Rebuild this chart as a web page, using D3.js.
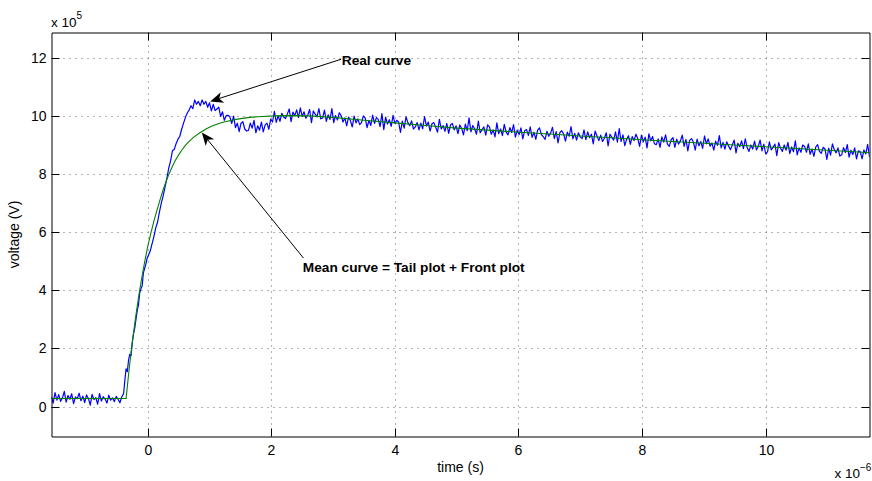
<!DOCTYPE html>
<html><head><meta charset="utf-8">
<script src="https://cdn.jsdelivr.net/npm/d3@7"></script>
<style>
body{margin:0;background:#fff;}
text{font-family:"Liberation Sans",Arial,Helvetica,sans-serif;fill:#000;}
</style></head><body><svg id="c" width="872" height="481"></svg>
<script>
// ---------- data (time in µs, voltage in 1e5 V) ----------
const xTicks = [0, 2, 4, 6, 8, 10];
const yTicks = [0, 2, 4, 6, 8, 10, 12];
const xDomain = [-1.557, 11.68];
const yDomain = [-1.03, 12.87];

// blue "real curve" before the rise, evenly sampled from -1.56 to -0.42
const bluePreRange = [-1.56, -0.42];
const bluePre = [0.35,0.12,0.48,0.22,0.41,0.18,0.30,0.52,0.15,0.38,
  0.25,0.44,0.10,0.33,0.27,0.46,0.20,0.36,0.14,0.40,
  0.28,0.05,0.42,0.24,0.31,0.08,0.45,0.19,0.34,0.26,
  0.12,0.39,0.22,0.30,0.17,0.35,0.25,0.13,0.33];

// blue rise
const blueRiseT = [-0.39,-0.37,-0.35,-0.33,-0.31,-0.29,-0.27,-0.25,-0.23,-0.21,-0.19,-0.17,-0.15,-0.13,-0.11,-0.09,-0.07,-0.05,-0.03,-0.01,
  0.01,0.04,0.07,0.10,0.13,0.16,0.19,0.22,0.25,0.28,0.31,0.34,0.37,0.40,0.43,0.46,0.49,0.52,0.55,0.58,0.61,0.64,0.67,0.70,0.73,0.76,0.79,0.82,0.85,0.88,0.91,0.94,0.97,1.00];
const blueRiseV = [0.45,0.90,1.30,1.20,1.60,1.80,1.75,2.20,2.50,2.70,3.00,3.30,3.50,3.90,4.05,4.15,4.60,4.75,4.90,5.10,
  5.20,5.35,5.60,5.85,6.15,6.35,6.70,7.00,7.25,7.55,7.85,8.20,8.45,8.80,8.85,9.05,9.20,9.30,9.55,9.75,9.95,10.10,10.20,10.35,10.25,10.55,10.40,10.50,10.35,10.55,10.40,10.50,10.30,10.45];

// blue tail, sampled every 0.03 µs starting at 1.03 µs (10 samples per row)
const blueTailStart = 1.03, blueTailStep = 0.03;
const blueTail = [
  10.17,10.40,10.18,10.24,10.30,9.98,10.14,9.85,10.01,10.02,
  9.97,9.74,9.99,9.60,9.75,9.46,9.75,9.80,9.55,9.48,
  9.50,9.75,9.58,9.85,9.42,9.66,9.51,9.79,9.45,9.69,
  9.75,9.54,9.89,9.79,10.16,9.78,10.01,9.81,10.09,9.96,
  9.91,10.07,10.24,9.80,10.13,10.01,10.21,9.94,10.28,9.98,
  10.14,9.92,10.03,10.22,9.77,10.17,10.06,9.97,10.25,9.90,
  9.93,10.20,9.81,10.04,9.88,10.25,9.77,10.01,9.86,10.11,
  10.01,9.79,9.93,9.66,9.96,9.84,9.62,9.99,9.76,9.90,
  9.70,9.77,10.00,9.92,9.60,9.85,9.67,10.03,9.74,9.94,
  9.88,9.63,10.08,9.53,9.96,9.72,9.87,9.64,10.02,9.74,
  9.85,9.79,9.43,9.82,9.58,9.97,9.77,9.66,9.83,9.55,
  9.62,9.77,9.52,9.75,9.56,9.98,9.65,9.79,9.48,9.73,
  9.77,9.61,9.44,9.88,9.55,9.67,9.47,9.74,9.40,9.70,
  9.74,9.52,9.66,9.39,9.69,9.57,9.35,9.72,9.49,9.93,
  9.45,9.67,9.56,9.37,9.82,9.42,9.53,9.62,9.34,9.69,
  9.62,9.37,9.52,9.28,9.76,9.39,9.55,9.32,9.71,9.44,
  9.35,9.60,9.43,9.70,9.27,9.51,9.36,9.59,9.21,9.49,
  9.53,9.33,9.62,9.26,9.44,9.19,9.51,9.59,9.36,9.29,
  9.19,9.47,9.30,9.41,9.61,9.22,9.46,9.07,9.43,9.49,
  9.38,9.13,9.44,9.30,9.63,9.21,9.40,9.17,9.42,9.27,
  9.22,9.52,9.18,9.45,9.25,9.37,9.04,9.48,9.31,9.15,
  9.34,9.12,9.23,9.42,8.97,9.37,9.26,9.17,9.45,9.10,
  9.56,9.12,9.35,8.98,9.20,9.32,9.02,9.29,9.15,9.37,
  9.22,8.95,9.34,9.11,9.27,8.90,9.38,9.14,9.29,9.04,
  9.01,9.21,8.92,9.28,9.10,9.35,9.03,8.95,9.18,9.25,
  8.92,9.20,9.03,9.14,9.34,8.95,9.19,8.80,9.16,9.22,
  9.10,8.82,9.20,8.97,9.12,8.88,9.31,9.04,9.21,8.96,
  9.07,8.82,9.13,8.99,9.32,8.90,9.09,8.86,9.11,8.96,
  8.84,9.00,9.17,8.73,9.06,8.94,9.14,8.87,9.21,8.91,
  8.78,9.00,8.86,9.13,8.83,8.95,9.17,8.80,9.03,8.69,
  8.76,9.11,8.83,8.92,9.03,8.63,9.08,8.89,8.78,9.00,
  8.82,9.09,8.70,8.93,8.77,9.14,8.66,8.90,8.75,9.00,
  8.95,8.75,9.04,8.68,8.86,8.61,8.93,9.01,8.78,8.71,
  8.92,8.86,8.50,8.89,8.65,9.04,8.84,8.73,8.90,8.62,
  8.66,8.91,8.74,9.01,8.58,8.82,8.67,8.90,8.52,8.80,
  8.77,8.52,8.83,8.69,9.02,8.60,8.79,8.56,8.81,8.46];

// green "mean curve"
const greenT = [-1.56,-0.35,-0.30,-0.25,-0.20,-0.15,-0.10,-0.05,0.00,0.05,0.10,0.15,0.20,0.25,0.30,0.35,0.40,0.45,0.50,0.55,0.60,0.65,0.75,0.85,0.95,1.05,1.15,1.25,1.45,1.65,1.85,2.05,2.30,2.60,3.00,3.50,4.00,4.50,5.00,5.50,6.00,6.50,7.00,7.50,8.00,8.50,9.00,9.50,10.00,10.50,11.00,11.50,11.72];
const greenV = [0.28,0.28,1.30,2.20,3.01,3.74,4.39,4.97,5.50,5.96,6.38,6.76,7.12,7.46,7.76,8.03,8.27,8.48,8.66,8.82,8.96,9.08,9.28,9.43,9.56,9.66,9.74,9.80,9.89,9.95,9.98,10.00,10.01,10.00,9.95,9.85,9.76,9.67,9.58,9.51,9.44,9.38,9.31,9.25,9.18,9.12,9.06,9.00,8.94,8.88,8.82,8.76,8.73];

// annotations: text anchor, arrow tail, arrow tip (data units)
const annoText = ["Real curve", "Mean curve = Tail plot + Front plot"];
const annoTextPos = [[3.14, 11.76], [2.51, 4.63]];
const annoTail = [[3.13, 11.95], [2.52, 5.11]];
const annoTip = [[1.01, 10.50], [0.875, 9.43]];

// ---------- build ----------
const svg = d3.select("#c");
const x = d3.scaleLinear().domain(xDomain).range([51.5, 869.5]);
const y = d3.scaleLinear().domain(yDomain).range([436.5, 32.5]);
const X0 = x.range()[0], X1 = x.range()[1], Y0 = y.range()[0], Y1 = y.range()[1];

svg.append("defs").append("clipPath").attr("id","clip")
  .append("rect").attr("x",X0).attr("y",Y1).attr("width",X1-X0).attr("height",Y0-Y1);

// grid
svg.append("g").selectAll("line").data(xTicks).join("line")
  .attr("x1",d=>Math.round(x(d))+0.5).attr("x2",d=>Math.round(x(d))+0.5)
  .attr("y1",Y0).attr("y2",Y1)
  .attr("stroke","#666").attr("stroke-width",1).attr("stroke-dasharray","1,5");
svg.append("g").selectAll("line").data(yTicks).join("line")
  .attr("y1",d=>Math.round(y(d))+0.5).attr("y2",d=>Math.round(y(d))+0.5)
  .attr("x1",X0).attr("x2",X1)
  .attr("stroke","#666").attr("stroke-width",1).attr("stroke-dasharray","1,5");

// series
const blue = [];
bluePre.forEach((v,i)=>blue.push([bluePreRange[0] + i*(bluePreRange[1]-bluePreRange[0])/(bluePre.length-1), v]));
blueRiseT.forEach((t,i)=>blue.push([t, blueRiseV[i]]));
blueTail.forEach((v,i)=>blue.push([blueTailStart + i*blueTailStep, v]));
const green = greenT.map((t,i)=>[t, greenV[i]]);

const line = d3.line().x(d=>x(d[0])).y(d=>y(d[1]));
const plot = svg.append("g").attr("clip-path","url(#clip)");
plot.append("path").datum(blue).attr("d",line).attr("fill","none").attr("stroke","#0000ff").attr("stroke-width",1.2).attr("stroke-linejoin","round");
plot.append("path").datum(green).attr("d",line).attr("fill","none").attr("stroke","#008000").attr("stroke-width",1.1);

// axes
const tickLen = 8;
const axB = svg.append("g").attr("transform",`translate(0,${Y0})`)
  .call(d3.axisBottom(x).tickValues(xTicks).tickSizeInner(-tickLen).tickSizeOuter(0).tickPadding(9).tickFormat(d3.format("d")));
const axT = svg.append("g").attr("transform",`translate(0,${Y1})`)
  .call(d3.axisTop(x).tickValues(xTicks).tickSizeInner(-tickLen).tickSizeOuter(0).tickFormat(""));
const axL = svg.append("g").attr("transform",`translate(${X0},0)`)
  .call(d3.axisLeft(y).tickValues(yTicks).tickSizeInner(-tickLen).tickSizeOuter(0).tickPadding(5).tickFormat(d3.format("d")));
const axR = svg.append("g").attr("transform",`translate(${X1},0)`)
  .call(d3.axisRight(y).tickValues(yTicks).tickSizeInner(-tickLen).tickSizeOuter(0).tickFormat(""));
[axB,axT,axL,axR].forEach(a=>{
  a.selectAll(".domain").attr("stroke","#000").attr("stroke-width",1);
  a.selectAll(".tick line").attr("stroke","#000").attr("stroke-width",1);
  a.selectAll("text").attr("font-size",14).attr("font-family","Liberation Sans, Arial, sans-serif").attr("fill","#000");
});
axL.selectAll(".tick").attr("transform",d=>`translate(0,${Math.round(y(d))+0.5})`);
axR.selectAll(".tick").attr("transform",d=>`translate(0,${Math.round(y(d))+0.5})`);
axB.selectAll(".tick").attr("transform",d=>`translate(${Math.round(x(d))+0.5},0)`);
axT.selectAll(".tick").attr("transform",d=>`translate(${Math.round(x(d))+0.5},0)`);

// axis labels
svg.append("text").attr("x",(X0+X1)/2).attr("y",472).attr("text-anchor","middle").attr("font-size",14).text("time (s)");
svg.append("text").attr("transform",`translate(19,${(Y0+Y1)/2}) rotate(-90)`).attr("text-anchor","middle").attr("font-size",14).text("voltage (V)");

// exponent labels
const e1 = svg.append("text").attr("x",51).attr("y",26.5).attr("font-size",13.5);
e1.append("tspan").text("x 10");
e1.append("tspan").attr("dy",-7.5).attr("font-size",10).text("5");
const e2 = svg.append("text").attr("x",834.5).attr("y",477.5).attr("font-size",13.5);
e2.append("tspan").text("x 10");
e2.append("tspan").attr("dy",-7).attr("font-size",10).text("\u22126");

// annotations
function arrow(tail, tip){
  const tx = x(tail[0]), ty = y(tail[1]), px = x(tip[0]), py = y(tip[1]);
  const dx = px-tx, dy = py-ty, len = Math.hypot(dx,dy), ux = dx/len, uy = dy/len, nx = -uy, ny = ux;
  const L = 13, W = 5.5, N = 3.5;
  svg.append("line").attr("x1",tx).attr("y1",ty).attr("x2",px-ux*(L-N)).attr("y2",py-uy*(L-N))
    .attr("stroke","#000").attr("stroke-width",1);
  const pts = [[px,py],[px-ux*L+nx*W,py-uy*L+ny*W],[px-ux*(L-N),py-uy*(L-N)],[px-ux*L-nx*W,py-uy*L-ny*W]];
  svg.append("path").attr("d","M"+pts.map(p=>p.join(",")).join("L")+"Z").attr("fill","#000");
}
annoText.forEach((t,i)=>{
  arrow(annoTail[i], annoTip[i]);
  svg.append("text").attr("x",x(annoTextPos[i][0])).attr("y",y(annoTextPos[i][1]))
    .attr("font-size",13.7).attr("font-weight","bold").text(t);
});
</script></body></html>
